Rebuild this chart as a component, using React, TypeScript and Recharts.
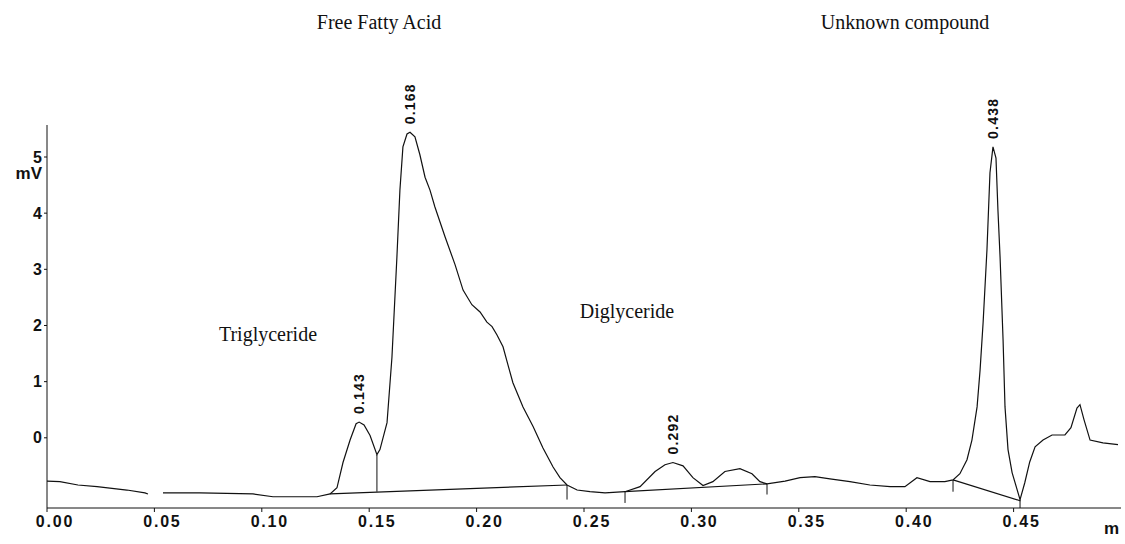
import { ComposedChart, Line, XAxis, YAxis, ReferenceLine, ReferenceDot } from 'recharts'

// retention time (min) and detector signal (mV)
const time = [
  0.0, 0.006, 0.0144, 0.0233, 0.0372, 0.0456, 0.047, 0.05, 0.054, 0.0712, 0.0959, 0.1052, 0.1257, 0.1318,
  0.135, 0.1378, 0.1411, 0.1439, 0.1453, 0.1476, 0.1504, 0.1536, 0.155, 0.1583, 0.1606, 0.1629, 0.1643,
  0.1657, 0.1676, 0.169, 0.1713, 0.1736, 0.176, 0.1783, 0.1806, 0.1853, 0.19, 0.1937, 0.1978, 0.2016,
  0.2048, 0.2072, 0.2095, 0.2123, 0.2146, 0.2169, 0.2216, 0.2263, 0.2309, 0.2356, 0.2388, 0.2421, 0.2468,
  0.2528, 0.2598, 0.2691, 0.2761, 0.2831, 0.2877, 0.2914, 0.2961, 0.3007, 0.3054, 0.31, 0.3156, 0.3226,
  0.3282, 0.3319, 0.3352, 0.3436, 0.3506, 0.3575, 0.3645, 0.3738, 0.3831, 0.3925, 0.3994, 0.405, 0.4111,
  0.418, 0.4218, 0.425, 0.4283, 0.4306, 0.433, 0.4344, 0.4358, 0.4376, 0.439, 0.4404, 0.4418, 0.4427,
  0.4437, 0.4451, 0.446, 0.4474, 0.4493, 0.453, 0.4552, 0.4575, 0.46, 0.4637, 0.4679, 0.4739, 0.4767,
  0.4795, 0.4809, 0.4828, 0.4856, 0.4916, 0.4986,
]
const signal: (number | null)[] = [
  -0.77, -0.78, -0.84, -0.87, -0.93, -0.98, -1.0, null, -0.98, -0.98, -1.0, -1.05, -1.05, -1.0,
  -0.89, -0.44, -0.04, 0.25, 0.28, 0.23, 0.04, -0.3, -0.21, 0.27, 1.44, 3.22, 4.41,
  5.18, 5.41, 5.44, 5.36, 5.04, 4.64, 4.41, 4.11, 3.58, 3.08, 2.63, 2.37, 2.24,
  2.06, 1.98, 1.83, 1.62, 1.3, 0.98, 0.55, 0.2, -0.18, -0.52, -0.71, -0.84, -0.93,
  -0.96, -0.98, -0.96, -0.87, -0.6, -0.48, -0.44, -0.5, -0.71, -0.85, -0.78, -0.6, -0.55,
  -0.64, -0.78, -0.82, -0.77, -0.71, -0.69, -0.73, -0.78, -0.84, -0.87, -0.87, -0.71, -0.78,
  -0.78, -0.75, -0.64, -0.39, -0.04, 0.55, 1.21, 2.05, 3.35, 4.72, 5.18, 4.98, 4.06,
  3.22, 1.74, 0.55, -0.21, -0.62, -1.1, -0.8, -0.43, -0.16, -0.04, 0.05, 0.05, 0.18,
  0.53, 0.59, 0.32, -0.04, -0.09, -0.12,
]

// integration baselines: [t1, mv1, t2, mv2]
const baselines = [
  [0.1318, -1.0, 0.2421, -0.84],
  [0.2691, -0.96, 0.3352, -0.82],
  [0.4218, -0.75, 0.453, -1.12],
]
// peak cut marks: [t, top mv, bottom mv]
const cuts = [
  [0.1536, -0.3, -0.96],
  [0.2421, -0.84, -1.1],
  [0.2691, -0.96, -1.16],
  [0.3352, -0.82, -1.01],
  [0.4218, -0.75, -0.96],
  [0.453, -1.1, -1.25],
]

const peakTimes = [0.1453, 0.169, 0.2914, 0.4404]
const peakHeights = [0.28, 5.44, -0.44, 5.18]
const peakLabels = ['0.143', '0.168', '0.292', '0.438']

const xTicks = [0, 0.05, 0.1, 0.15, 0.2, 0.25, 0.3, 0.35, 0.4, 0.45]
const yTicks = [0, 1, 2, 3, 4, 5]

const trace = time.map((t, i) => ({ t, mv: signal[i] }))

const SANS = '"Liberation Sans", Arial, sans-serif'
const SERIF = '"Liberation Serif", "Times New Roman", serif'
const INK = '#111'

function XTick(props: any) {
  const { x, y, payload } = props
  return (
    <text x={x + 8} y={y + 1} dy="0.71em" textAnchor="middle" fontFamily={SANS} fontWeight={700}
      fontSize={16} letterSpacing={1.8} fill={INK}>
      {Number(payload.value).toFixed(2)}
    </text>
  )
}

function YTick(props: any) {
  const { x, y, payload } = props
  return (
    <text x={x} y={y} dy="0.355em" textAnchor="end" fontFamily={SANS} fontWeight={700}
      fontSize={16} fill={INK}>
      {payload.value}
    </text>
  )
}

function peakLabel(text: string) {
  return (p: any) => {
    const x = p.cx
    const y = p.cy - 8
    return (
      <text x={x} y={y} transform={`rotate(-90 ${x} ${y})`} textAnchor="start" dominantBaseline="central"
        fontFamily={SANS} fontWeight={700} fontSize={14} letterSpacing={1.2} fill={INK}>
        {text}
      </text>
    )
  }
}

export default function App() {
  return (
    <div style={{ position: 'absolute', left: 0, top: 0, width: 1125, height: 544, background: '#fff' }}>
      <ComposedChart width={1125} height={544} data={trace}
        margin={{ top: 125, right: 4, bottom: 6, left: 0 }}>
        <XAxis type="number" dataKey="t" domain={[0, 0.5]} ticks={xTicks} allowDataOverflow
          height={30} stroke={INK} tickSize={4} tickMargin={3} tick={<XTick />} />
        <YAxis type="number" domain={[-1.25, 5.57]} ticks={yTicks} allowDataOverflow
          width={47} stroke={INK} tickSize={3} tickMargin={2} tick={<YTick />} />
        <Line type="linear" dataKey="mv" stroke={INK} strokeWidth={1.2} dot={false}
          activeDot={false} isAnimationActive={false} />
        {baselines.map((b, i) => (
          <ReferenceLine key={'b' + i} segment={[{ x: b[0], y: b[1] }, { x: b[2], y: b[3] }]}
            stroke={INK} strokeWidth={1.2} ifOverflow="visible" />
        ))}
        {cuts.map((c, i) => (
          <ReferenceLine key={'c' + i} segment={[{ x: c[0], y: c[1] }, { x: c[0], y: c[2] }]}
            stroke={INK} strokeWidth={1} ifOverflow="visible" />
        ))}
        {peakTimes.map((t, i) => (
          <ReferenceDot key={'p' + i} x={t} y={peakHeights[i]} r={1} ifOverflow="visible"
            shape={peakLabel(peakLabels[i])} />
        ))}
      </ComposedChart>
      <svg width={1125} height={544} style={{ position: 'absolute', left: 0, top: 0, pointerEvents: 'none' }}>
        <g fontFamily={SERIF} fontSize={20} fill={INK} textAnchor="middle">
          <text x={379} y={29}>Free Fatty Acid</text>
          <text x={905} y={29}>Unknown compound</text>
          <text x={268} y={341}>Triglyceride</text>
          <text x={627} y={318}>Diglyceride</text>
        </g>
        <g fontFamily={SANS} fontWeight={700} fontSize={17} fill={INK}>
          <text x={42} y={179} textAnchor="end">mV</text>
          <text x={1104} y={534}>m</text>
        </g>
      </svg>
    </div>
  )
}
